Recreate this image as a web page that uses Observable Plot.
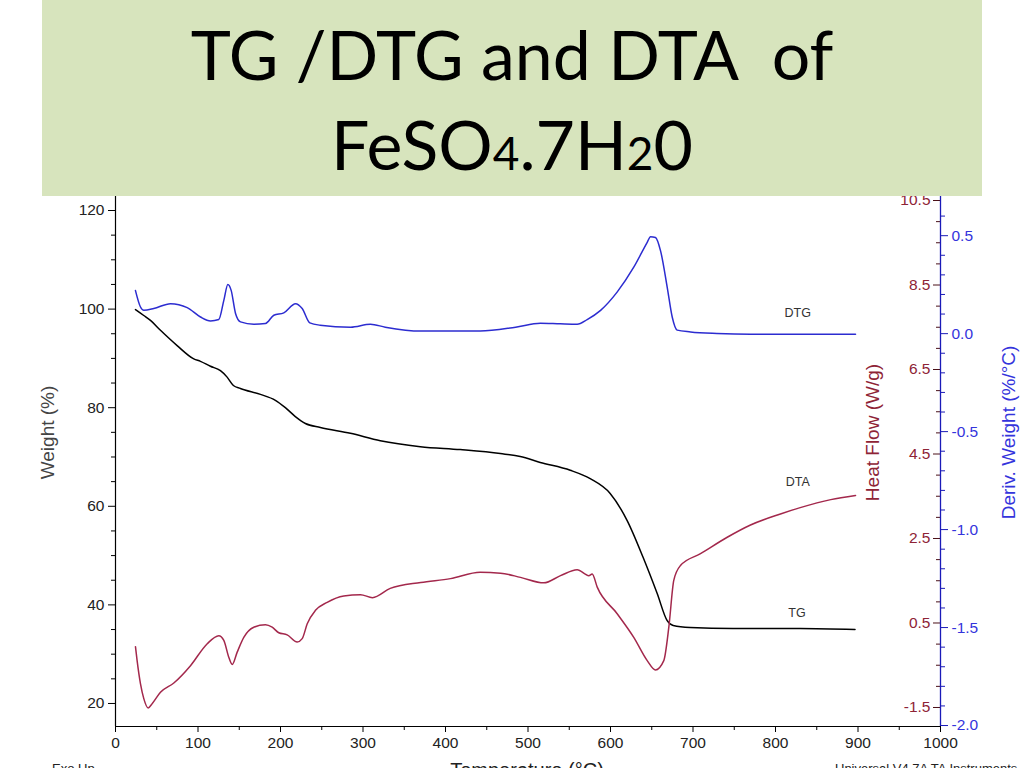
<!DOCTYPE html>
<html>
<head>
<meta charset="utf-8">
<script src="https://cdn.jsdelivr.net/npm/d3@7"></script>
<script src="https://cdn.jsdelivr.net/npm/@observablehq/plot@0.6"></script>
<style>
  html, body { margin: 0; padding: 0; width: 1024px; height: 768px; overflow: hidden; background: #fff; }
  #stage { position: relative; width: 1024px; height: 768px; overflow: hidden; }
  #stage svg.layer { position: absolute; left: 0; top: 0; }
  #overlay { position: absolute; left: 0; top: 0; pointer-events: none; }
  #overlay text.title { white-space: pre; }
</style>
</head>
<body>
<div id="stage"></div>
<script>
// ---------------- DATA ----------------
// TG curve: temperature (°C) and weight (%)
const tgTemp   = [24.2, 34.3, 42.4, 54.5, 74.7, 94.9, 103, 115.1, 127.2, 135.3, 142.9, 151.4, 175.7, 193.8, 205.9, 218, 230.2, 248.3, 284.7, 321, 369.5, 417.9, 466.4, 490.6, 514.8, 551.2, 575.4, 599.6, 620.2, 639.6, 656.6, 668.7, 676, 696.5, 748.6, 829.8, 896.4];
const tgWeight = [99.9, 98.7, 97.7, 95.7, 92.6, 89.9, 89.4, 88.4, 87.5, 86.2, 84.5, 83.9, 82.7, 81.5, 80.0, 78.2, 76.8, 76.0, 74.8, 73.3, 72.1, 71.5, 70.7, 70.1, 68.9, 67.3, 65.6, 62.6, 57.1, 49.6, 42.3, 36.8, 35.8, 35.4, 35.2, 35.2, 35.0];

// DTA curve: temperature (°C) and heat flow (W/g)
const dtaTemp = [24.2, 26.2, 30.3, 34.3, 39.6, 44.4, 54.5, 70.7, 90.9, 111.2, 125.2, 131.3, 137.3, 141.5, 147.5, 155.5, 167.6, 181.8, 189.9, 197.9, 208.1, 220.2, 226.3, 232.4, 242.4, 256.6, 276.7, 297, 311.5, 333, 370, 406, 442, 466.7, 490.9, 519.2, 539.4, 559.6, 573.7, 577.8, 583.9, 608.1, 628.2, 644.5, 654.5, 664.6, 670.7, 676.7, 684.8, 709.1, 741.5, 769.7, 806, 830, 867, 897];
const dtaHeat = [-0.06, -0.39, -0.94, -1.29, -1.51, -1.41, -1.14, -0.92, -0.51, 0.01, 0.20, 0.09, -0.31, -0.48, -0.19, 0.16, 0.40, 0.46, 0.40, 0.27, 0.22, 0.05, 0.13, 0.48, 0.80, 0.99, 1.14, 1.17, 1.10, 1.32, 1.46, 1.55, 1.70, 1.68, 1.58, 1.45, 1.62, 1.76, 1.62, 1.66, 1.35, 0.72, 0.16, -0.39, -0.61, -0.39, 0.40, 1.51, 1.86, 2.14, 2.53, 2.82, 3.08, 3.23, 3.42, 3.52];

// DTG curve: temperature (°C) and derivative weight (%/°C)
const dtgTemp  = [24.2, 30.3, 34.3, 46.4, 66.7, 86.9, 103, 115.2, 125.2, 131.3, 136.2, 140.2, 145.5, 151.5, 167.7, 181.8, 191.9, 204, 218.2, 226.3, 235.5, 248, 285, 309, 327, 370, 442, 485, 515, 539, 559.6, 571.7, 588, 608, 628.2, 644.5, 648.5, 654.5, 660.6, 668.7, 674.8, 680.8, 697, 729, 770, 897];
const dtgDeriv = [0.22, 0.136, 0.119, 0.128, 0.153, 0.133, 0.085, 0.065, 0.072, 0.170, 0.251, 0.221, 0.103, 0.060, 0.048, 0.052, 0.094, 0.106, 0.153, 0.128, 0.055, 0.043, 0.033, 0.048, 0.033, 0.013, 0.013, 0.033, 0.053, 0.050, 0.048, 0.072, 0.119, 0.212, 0.339, 0.466, 0.495, 0.491, 0.424, 0.238, 0.085, 0.018, 0.009, 0.001, -0.003, -0.003];

// Tick labels
const xTicks      = [0, 100, 200, 300, 400, 500, 600, 700, 800, 900, 1000];
const xMinorTicks = [50, 150, 250, 350, 450, 550, 650, 750, 850, 950];
const weightTicks = [20, 40, 60, 80, 100, 120];
const weightMinor = [25, 30, 35, 45, 50, 55, 65, 70, 75, 85, 90, 95, 105, 110, 115];
const heatTicks   = [-1.5, 0.5, 2.5, 4.5, 6.5, 8.5, 10.5];
const heatMinor   = [-1.0, -0.5, 0.0, 1.0, 1.5, 2.0, 3.0, 3.5, 4.0, 5.0, 5.5, 6.0, 7.0, 7.5, 8.0, 9.0, 9.5, 10.0];
const derivTicks  = [-2.0, -1.5, -1.0, -0.5, 0.0, 0.5];
const derivMinor  = [-1.9, -1.8, -1.7, -1.6, -1.4, -1.3, -1.2, -1.1, -0.9, -0.8, -0.7, -0.6, -0.4, -0.3, -0.2, -0.1, 0.1, 0.2, 0.3, 0.4, 0.6];

// Series labels (placed in temperature / weight units)
const seriesNames  = ["DTG", "DTA", "TG"];
const seriesLabelT = [827, 827, 826];
const seriesLabelW = [99.3, 65.0, 38.3];

// ---------------- CHART ----------------
const W = 1024, H = 768;
const xDomain = [0, 1000];
const weightDomain = [15.33, 122.84];
const heatDomain   = [-1.95, 10.595];
const derivDomain  = [-2.005, 0.70];

const FONT = "'Liberation Sans', Arial, Helvetica, sans-serif";
const common = {
  width: W, height: H,
  marginLeft: 115, marginRight: 84, marginTop: 196, marginBottom: 42,
  x: {domain: xDomain, axis: null},
  style: {background: "transparent", fontFamily: FONT, overflow: "visible"}
};

const tg  = tgTemp.map((t, i) => ({t, v: tgWeight[i]}));
const dta = dtaTemp.map((t, i) => ({t, v: dtaHeat[i]}));
const dtg = dtgTemp.map((t, i) => ({t, v: dtgDeriv[i]}));
const labels = seriesNames.map((name, i) => ({name, t: seriesLabelT[i], v: seriesLabelW[i]}));
const fmt1 = d => d.toFixed(1);

const heatColor  = "#8e2336";
const derivColor = "#3434dc";

// Layer 1: TG (weight), left & bottom axes
const p1 = Plot.plot({
  ...common,
  y: {domain: weightDomain, axis: null},
  marks: [
    Plot.ruleX([0], {stroke: "#000", strokeWidth: 1.2}),
    Plot.ruleY([weightDomain[0]], {stroke: "#000", strokeWidth: 1.2}),
    Plot.axisY({anchor: "left", ticks: weightTicks, tickSize: 7, tickPadding: 4, tickFormat: d => String(d), fontSize: 15.5, fill: "#222", stroke: "#000", label: null}),
    Plot.axisY({anchor: "left", ticks: weightMinor, tickSize: 4, tickFormat: () => "", stroke: "#000", label: null}),
    Plot.axisX({anchor: "bottom", ticks: xTicks, tickSize: 6, tickPadding: 4, tickFormat: d => String(d), fontSize: 15.5, fill: "#222", stroke: "#000", label: null}),
    Plot.axisX({anchor: "bottom", ticks: xMinorTicks, tickSize: 4, tickFormat: () => "", stroke: "#000", label: null}),
    Plot.line(tg, {x: "t", y: "v", stroke: "#000", strokeWidth: 1.5, curve: "monotone-x"}),
    Plot.text(labels, {x: "t", y: "v", text: "name", fontSize: 12.5, fill: "#333"}),
    Plot.text(["Weight (%)"], {frameAnchor: "left", textAnchor: "middle", dx: -68, dy: -29, rotate: -90, fontSize: 19, fill: "#444"})
  ]
});

// Layer 2: DTA (heat flow), inner-left axis on the right edge
const p2 = Plot.plot({
  ...common,
  y: {domain: heatDomain, axis: null},
  marks: [
    Plot.line(dta, {x: "t", y: "v", stroke: "#a3284c", strokeWidth: 1.5, curve: "monotone-x"}),
    Plot.axisY({anchor: "left", dx: 825, ticks: heatTicks, tickSize: 7, tickPadding: 3, tickFormat: fmt1, fontSize: 15.5, fill: heatColor, stroke: "#4a1018", label: null}),
    Plot.axisY({anchor: "left", dx: 825, ticks: heatMinor, tickSize: 4, tickFormat: () => "", stroke: "#4a1018", label: null}),
    Plot.text(["Heat Flow (W/g)"], {frameAnchor: "right", textAnchor: "middle", dx: -68, dy: -29, rotate: -90, fontSize: 19, fill: heatColor})
  ]
});

// Layer 3: DTG (derivative weight), right axis
const p3 = Plot.plot({
  ...common,
  y: {domain: derivDomain, axis: null},
  marks: [
    Plot.line(dtg, {x: "t", y: "v", stroke: "#2c2cd0", strokeWidth: 1.5, curve: "monotone-x"}),
    Plot.ruleX([1000], {stroke: "#1a1ab8", strokeWidth: 1.3}),
    Plot.axisY({anchor: "right", ticks: derivTicks, tickSize: 7, tickPadding: 4, tickFormat: fmt1, fontSize: 15.5, fill: derivColor, stroke: "#1a1ab8", label: null}),
    Plot.axisY({anchor: "right", ticks: derivMinor, tickSize: 4, tickFormat: () => "", stroke: "#1a1ab8", label: null}),
    Plot.text(["Deriv. Weight (%/°C)"], {frameAnchor: "right", textAnchor: "middle", dx: 68, dy: -29, rotate: -90, fontSize: 19, fill: derivColor})
  ]
});

const stage = document.getElementById("stage");
for (const p of [p1, p2, p3]) { p.classList.add("layer"); stage.appendChild(p); }

// Overlay: title box and footer texts
const NS = "http://www.w3.org/2000/svg";
const ov = document.createElementNS(NS, "svg");
ov.setAttribute("id", "overlay");
ov.setAttribute("width", W);
ov.setAttribute("height", H);
ov.innerHTML = `
  <rect x="42" y="0" width="940" height="196" fill="#d7e4bd"></rect>
  <text class="title" x="512" y="80" text-anchor="middle" font-family="Lato, 'Open Sans', sans-serif" font-size="68" fill="#000">TG /DTG and DTA  of</text>
  <text class="title" x="512" y="170" text-anchor="middle" font-family="Lato, 'Open Sans', sans-serif" font-size="68" fill="#000">FeSO<tspan font-size="46">4</tspan>.7H<tspan font-size="46">2</tspan>0</text>
  <text x="52" y="773" font-family="${FONT}" font-size="13" fill="#222">Exo Up</text>
  <text x="527" y="777" text-anchor="middle" font-family="${FONT}" font-size="20" fill="#222">Temperature (°C)</text>
  <text x="835" y="773" font-family="${FONT}" font-size="13" fill="#222">Universal V4.7A TA Instruments</text>
`;
stage.appendChild(ov);
</script>
</body>
</html>
